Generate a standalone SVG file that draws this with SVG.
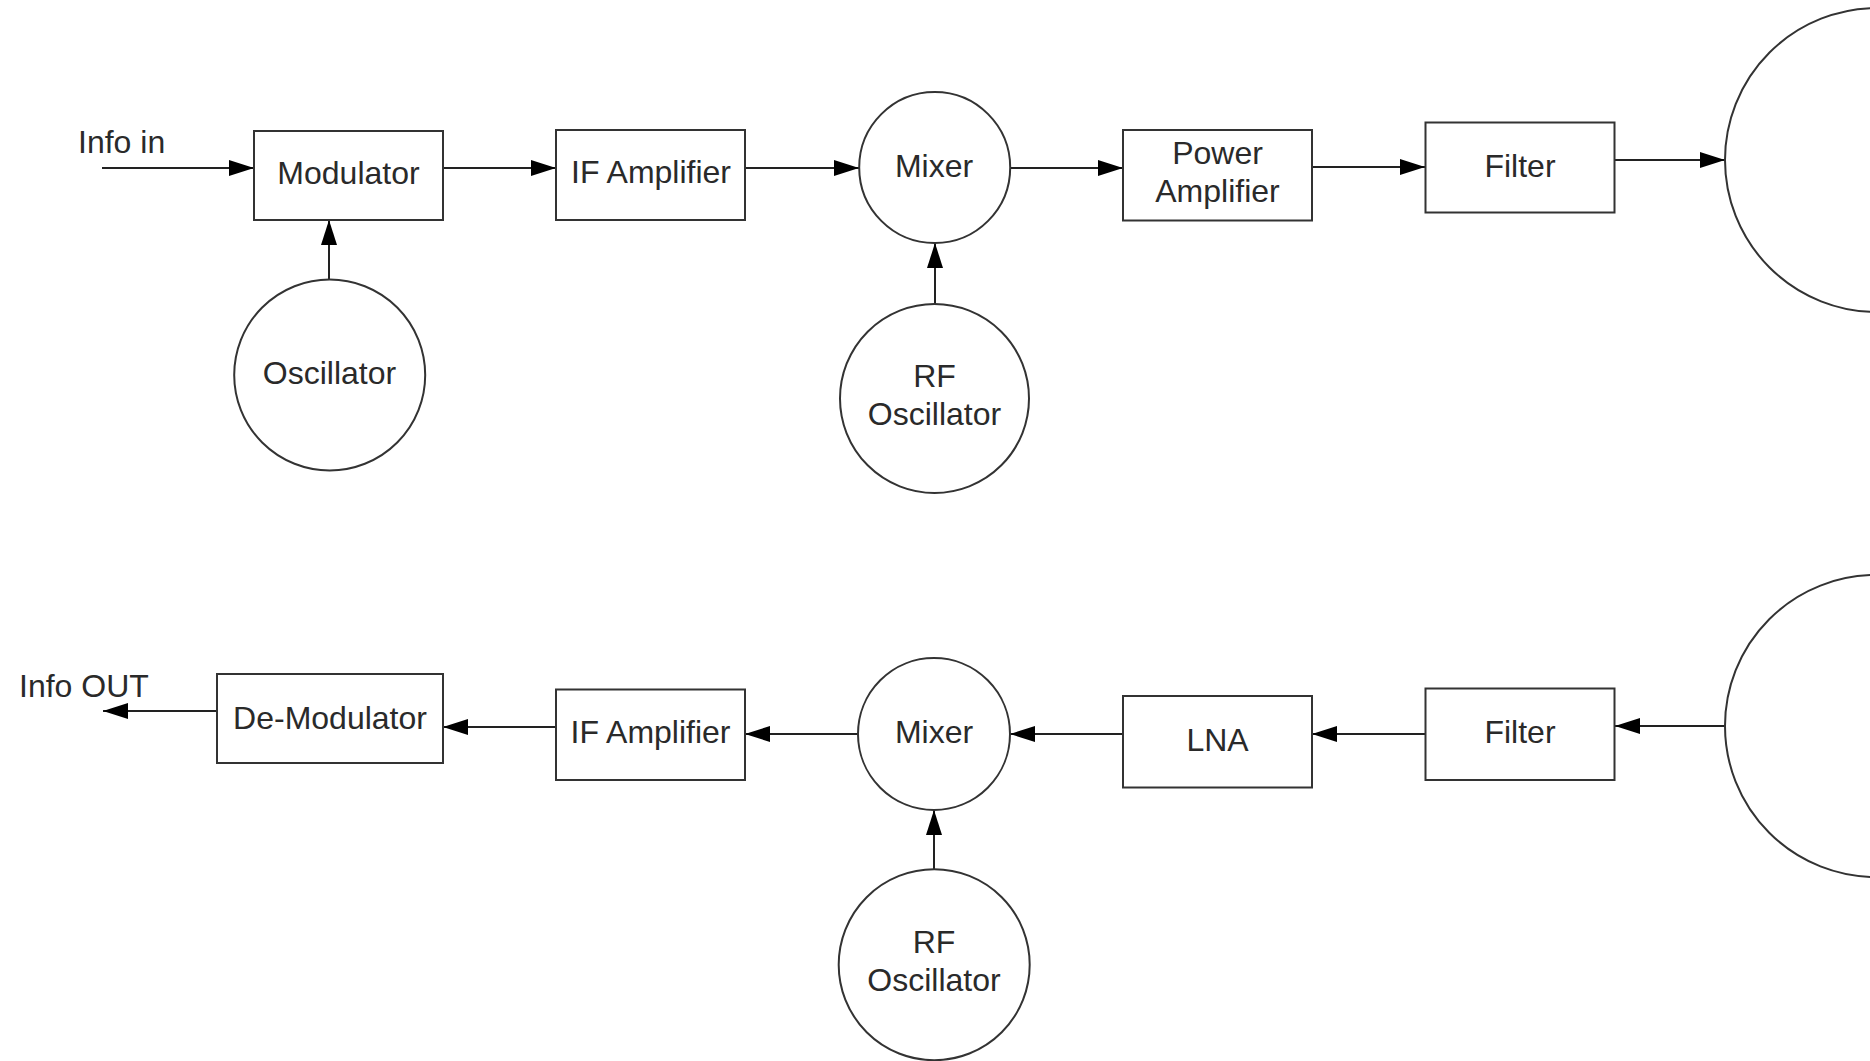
<svg xmlns="http://www.w3.org/2000/svg" width="1870" height="1061" viewBox="0 0 1870 1061">
<style>
.box{fill:#fff;stroke:#333;stroke-width:2}
.conn{fill:none;stroke:#222;stroke-width:2}
text{font-family:"Liberation Sans",Arial,sans-serif;font-size:32px;fill:#2a2a2a}
.c{text-anchor:middle}
</style>
<defs>
<marker id="arr" markerUnits="userSpaceOnUse" markerWidth="26" markerHeight="18" refX="25" refY="8" orient="auto">
<path d="M0,0 L25,8 L0,16 z" fill="#000"/>
</marker>
</defs>
<rect width="1870" height="1061" fill="#fff"/>
<g id="connectors">
<line class="conn" x1="102" y1="168" x2="254" y2="168" marker-end="url(#arr)"/>
<line class="conn" x1="443" y1="168" x2="556" y2="168" marker-end="url(#arr)"/>
<line class="conn" x1="745" y1="168" x2="859" y2="168" marker-end="url(#arr)"/>
<line class="conn" x1="1010" y1="168" x2="1123" y2="168" marker-end="url(#arr)"/>
<line class="conn" x1="1312" y1="167" x2="1425" y2="167" marker-end="url(#arr)"/>
<line class="conn" x1="1615" y1="160" x2="1725" y2="160" marker-end="url(#arr)"/>
<line class="conn" x1="329" y1="280" x2="329" y2="220" marker-end="url(#arr)"/>
<line class="conn" x1="935" y1="304" x2="935" y2="243" marker-end="url(#arr)"/>
<line class="conn" x1="1725" y1="726" x2="1615" y2="726" marker-end="url(#arr)"/>
<line class="conn" x1="1425" y1="734" x2="1312" y2="734" marker-end="url(#arr)"/>
<line class="conn" x1="1123" y1="734" x2="1010" y2="734" marker-end="url(#arr)"/>
<line class="conn" x1="858" y1="734" x2="745" y2="734" marker-end="url(#arr)"/>
<line class="conn" x1="556" y1="727" x2="443" y2="727" marker-end="url(#arr)"/>
<line class="conn" x1="217" y1="711" x2="103" y2="711" marker-end="url(#arr)"/>
<line class="conn" x1="934" y1="869" x2="934" y2="810" marker-end="url(#arr)"/>
</g>
<text x="78" y="153">Info in</text>
<text x="19" y="697">Info OUT</text>
<g id="modulator"><rect class="box" x="254" y="131" width="189" height="89"/><text class="c" x="348.5" y="184">Modulator</text></g>
<g id="if-amp-tx"><rect class="box" x="556" y="130" width="189" height="90"/><text class="c" x="651" y="183">IF Amplifier</text></g>
<g id="mixer-tx"><circle class="box" cx="934.7" cy="167.5" r="75.5"/><text class="c" x="934" y="177">Mixer</text></g>
<g id="power-amp"><rect class="box" x="1123" y="130" width="189" height="90.5"/><text class="c" x="1217.5" y="164">Power</text><text class="c" x="1217.5" y="202">Amplifier</text></g>
<g id="filter-tx"><rect class="box" x="1425.5" y="122.5" width="189" height="90"/><text class="c" x="1520" y="177">Filter</text></g>
<g id="antenna-tx"><circle class="box" cx="1877" cy="160" r="152"/></g>
<g id="oscillator"><circle class="box" cx="329.7" cy="375" r="95.5"/><text class="c" x="329.5" y="384">Oscillator</text></g>
<g id="rf-osc-tx"><circle class="box" cx="934.5" cy="398.5" r="94.5"/><text class="c" x="934.5" y="387">RF</text><text class="c" x="934.5" y="425">Oscillator</text></g>
<g id="demodulator"><rect class="box" x="217" y="674" width="226" height="89"/><text class="c" x="330" y="729">De-Modulator</text></g>
<g id="if-amp-rx"><rect class="box" x="556" y="689.5" width="189" height="90.5"/><text class="c" x="650.5" y="743">IF Amplifier</text></g>
<g id="mixer-rx"><circle class="box" cx="934" cy="734" r="76"/><text class="c" x="934" y="743">Mixer</text></g>
<g id="lna"><rect class="box" x="1123" y="696" width="189" height="91.5"/><text class="c" x="1217.5" y="751">LNA</text></g>
<g id="filter-rx"><rect class="box" x="1425.5" y="688.5" width="189" height="91.5"/><text class="c" x="1520" y="743">Filter</text></g>
<g id="antenna-rx"><circle class="box" cx="1876" cy="726" r="151"/></g>
<g id="rf-osc-rx"><circle class="box" cx="934.2" cy="964.7" r="95.5"/><text class="c" x="934" y="953">RF</text><text class="c" x="934" y="991">Oscillator</text></g>
</svg>
